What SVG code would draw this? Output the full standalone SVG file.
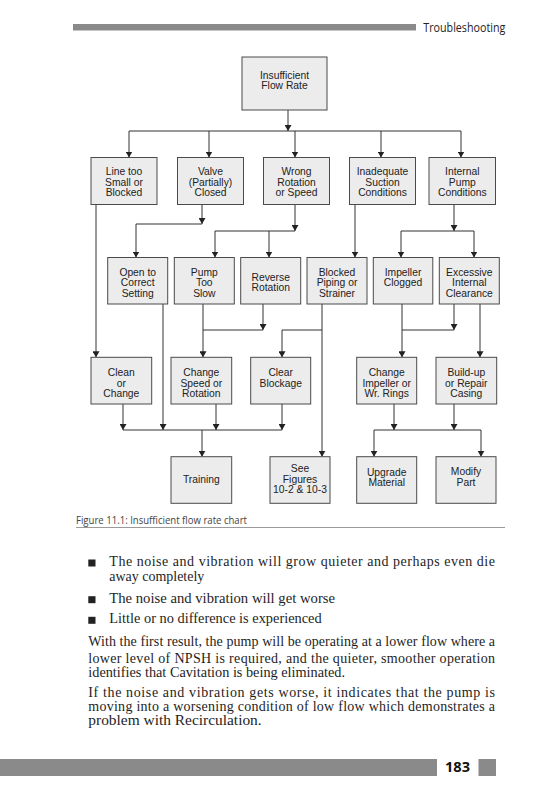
<svg xmlns="http://www.w3.org/2000/svg" width="533" height="800" viewBox="0 0 533 800">
<style>
.box{fill:#ececec;stroke:#4a4a4a;stroke-width:1}
.bt{font-family:"Liberation Sans",Arial,sans-serif;font-size:10.3px;fill:#222;text-anchor:middle}
.cn{fill:none;stroke:#333;stroke-width:1}
.body{font-family:"Liberation Serif","Times New Roman",serif;font-size:14px;fill:#1e1e1e}
.hdr{font-family:"Open Sans","Liberation Sans",sans-serif;font-size:12px;fill:#222}
</style>
<defs>
<marker id="ah" markerWidth="6" markerHeight="7" refX="6" refY="3.5" orient="auto" markerUnits="userSpaceOnUse">
<path d="M0,0 L6,3.5 L0,7 z" fill="#222"/>
</marker>
</defs>
<rect width="533" height="800" fill="#fff"/>
<g id="header">
<rect x="73" y="24" width="343" height="6.5" fill="#8a8a8a"/>
<text class="hdr" x="423.3" y="31.5" textLength="82" lengthAdjust="spacingAndGlyphs">Troubleshooting</text>
</g>
<g id="connectors">
<path class="cn" d="M288,110 V131" marker-end="url(#ah)"/>
<path class="cn" d="M129,131 H461"/>
<path class="cn" d="M129,131 V157.5" marker-end="url(#ah)"/>
<path class="cn" d="M209,131 V157.5" marker-end="url(#ah)"/>
<path class="cn" d="M295,131 V157.5" marker-end="url(#ah)"/>
<path class="cn" d="M381,131 V157.5" marker-end="url(#ah)"/>
<path class="cn" d="M461,131 V157.5" marker-end="url(#ah)"/>
<path class="cn" d="M96,204.5 V357.3" marker-end="url(#ah)"/>
<path class="cn" d="M202,204.5 V224" marker-end="url(#ah)"/>
<path class="cn" d="M202,224 H136 V257.5" marker-end="url(#ah)"/>
<path class="cn" d="M295,204.5 V231" marker-end="url(#ah)"/>
<path class="cn" d="M215,231 H295"/>
<path class="cn" d="M215,231 V257.5" marker-end="url(#ah)"/>
<path class="cn" d="M269,231 V257.5" marker-end="url(#ah)"/>
<path class="cn" d="M355,204.5 V257.5" marker-end="url(#ah)"/>
<path class="cn" d="M454,204.5 V231" marker-end="url(#ah)"/>
<path class="cn" d="M401,231 H474"/>
<path class="cn" d="M401,231 V257.5" marker-end="url(#ah)"/>
<path class="cn" d="M474,231 V257.5" marker-end="url(#ah)"/>
<path class="cn" d="M163,304 V430" marker-end="url(#ah)"/>
<path class="cn" d="M203,304 V357.3" marker-end="url(#ah)"/>
<path class="cn" d="M263,304 V330" marker-end="url(#ah)"/>
<path class="cn" d="M263,330 H203"/>
<path class="cn" d="M322,304 V456.7" marker-end="url(#ah)"/>
<path class="cn" d="M282,330 H322"/>
<path class="cn" d="M282,330 V357.3" marker-end="url(#ah)"/>
<path class="cn" d="M402,304 V357.3" marker-end="url(#ah)"/>
<path class="cn" d="M454,304 V330" marker-end="url(#ah)"/>
<path class="cn" d="M402,330 H454"/>
<path class="cn" d="M480,304 V357.3" marker-end="url(#ah)"/>
<path class="cn" d="M123,404 V430" marker-end="url(#ah)"/>
<path class="cn" d="M216,404 V430" marker-end="url(#ah)"/>
<path class="cn" d="M282,404 V430" marker-end="url(#ah)"/>
<path class="cn" d="M123,430 H282"/>
<path class="cn" d="M202,430 V456.7" marker-end="url(#ah)"/>
<path class="cn" d="M394,404 V430" marker-end="url(#ah)"/>
<path class="cn" d="M454,404 V430" marker-end="url(#ah)"/>
<path class="cn" d="M374,430 H481"/>
<path class="cn" d="M374,430 V456.7" marker-end="url(#ah)"/>
<path class="cn" d="M481,430 V456.7" marker-end="url(#ah)"/>
</g>
<g id="n-top"><rect class="box" x="242" y="57" width="85" height="53"/><text class="bt" x="284.5" y="78.6">Insufficient</text><text class="bt" x="284.5" y="88.9">Flow Rate</text></g>
<g id="n-line"><rect class="box" x="91" y="157.5" width="66" height="47"/><text class="bt" x="124" y="175.3">Line too</text><text class="bt" x="124" y="185.6">Small or</text><text class="bt" x="124" y="195.9">Blocked</text></g>
<g id="n-valve"><rect class="box" x="177.5" y="157.5" width="66" height="47"/><text class="bt" x="210.5" y="175.3">Valve</text><text class="bt" x="210.5" y="185.6">(Partially)</text><text class="bt" x="210.5" y="195.9">Closed</text></g>
<g id="n-wrong"><rect class="box" x="263.5" y="157.5" width="66" height="47"/><text class="bt" x="296.5" y="175.3">Wrong</text><text class="bt" x="296.5" y="185.6">Rotation</text><text class="bt" x="296.5" y="195.9">or Speed</text></g>
<g id="n-inadequate"><rect class="box" x="349.5" y="157.5" width="66" height="47"/><text class="bt" x="382.5" y="175.3">Inadequate</text><text class="bt" x="382.5" y="185.6">Suction</text><text class="bt" x="382.5" y="195.9">Conditions</text></g>
<g id="n-internal"><rect class="box" x="429" y="157.5" width="66.5" height="47"/><text class="bt" x="462.3" y="175.3">Internal</text><text class="bt" x="462.3" y="185.6">Pump</text><text class="bt" x="462.3" y="195.9">Conditions</text></g>
<g id="n-open"><rect class="box" x="107.7" y="257.5" width="60" height="46.5"/><text class="bt" x="137.7" y="275.9">Open to</text><text class="bt" x="137.7" y="286.3">Correct</text><text class="bt" x="137.7" y="296.6">Setting</text></g>
<g id="n-pump"><rect class="box" x="174.3" y="257.5" width="60" height="46.5"/><text class="bt" x="204.3" y="275.9">Pump</text><text class="bt" x="204.3" y="286.3">Too</text><text class="bt" x="204.3" y="296.6">Slow</text></g>
<g id="n-reverse"><rect class="box" x="240.7" y="257.5" width="60" height="46.5"/><text class="bt" x="270.7" y="281.3">Reverse</text><text class="bt" x="270.7" y="291.4">Rotation</text></g>
<g id="n-blocked"><rect class="box" x="307" y="257.5" width="60" height="46.5"/><text class="bt" x="337" y="275.9">Blocked</text><text class="bt" x="337" y="286.3">Piping or</text><text class="bt" x="337" y="296.6">Strainer</text></g>
<g id="n-impeller"><rect class="box" x="373.3" y="257.5" width="59.5" height="46.5"/><text class="bt" x="403" y="275.9">Impeller</text><text class="bt" x="403" y="286.3">Clogged</text></g>
<g id="n-excessive"><rect class="box" x="439.3" y="257.5" width="60" height="46.5"/><text class="bt" x="469.3" y="275.9">Excessive</text><text class="bt" x="469.3" y="286.3">Internal</text><text class="bt" x="469.3" y="296.6">Clearance</text></g>
<g id="n-clean"><rect class="box" x="91" y="357.3" width="60.7" height="46.7"/><text class="bt" x="121.3" y="376.3">Clean</text><text class="bt" x="121.3" y="386.5">or</text><text class="bt" x="121.3" y="396.8">Change</text></g>
<g id="n-changespeed"><rect class="box" x="171" y="357.3" width="60.7" height="46.7"/><text class="bt" x="201.3" y="376.3">Change</text><text class="bt" x="201.3" y="386.5">Speed or</text><text class="bt" x="201.3" y="396.8">Rotation</text></g>
<g id="n-clear"><rect class="box" x="250.7" y="357.3" width="60" height="46.7"/><text class="bt" x="280.7" y="376.3">Clear</text><text class="bt" x="280.7" y="386.5">Blockage</text></g>
<g id="n-changeimp"><rect class="box" x="356.7" y="357.3" width="60" height="46.7"/><text class="bt" x="386.7" y="376.3">Change</text><text class="bt" x="386.7" y="386.5">Impeller or</text><text class="bt" x="386.7" y="396.8">Wr. Rings</text></g>
<g id="n-buildup"><rect class="box" x="436" y="357.3" width="60.7" height="46.7"/><text class="bt" x="466.3" y="376.3">Build-up</text><text class="bt" x="466.3" y="386.5">or Repair</text><text class="bt" x="466.3" y="396.8">Casing</text></g>
<g id="n-training"><rect class="box" x="171" y="456.7" width="60.7" height="46.6"/><text class="bt" x="201.3" y="483">Training</text></g>
<g id="n-see"><rect class="box" x="270" y="456.7" width="60" height="46.6"/><text class="bt" x="300" y="472.2">See</text><text class="bt" x="300" y="482.6">Figures</text><text class="bt" x="300" y="493">10-2 &amp; 10-3</text></g>
<g id="n-upgrade"><rect class="box" x="356.7" y="456.7" width="60" height="46.6"/><text class="bt" x="386.7" y="475.8">Upgrade</text><text class="bt" x="386.7" y="486">Material</text></g>
<g id="n-modify"><rect class="box" x="436" y="456.7" width="60" height="46.6"/><text class="bt" x="466" y="475.3">Modify</text><text class="bt" x="466" y="485.6">Part</text></g>
<g id="caption">
<text x="76" y="524" font-family="'Open Sans','Liberation Sans',sans-serif" font-size="10px" fill="#444" textLength="171" lengthAdjust="spacingAndGlyphs">Figure 11.1: Insufficient flow rate chart</text>
<line x1="76" y1="527.5" x2="505" y2="527.5" stroke="#9a9a9a" stroke-width="1"/>
</g>
<g id="body">
<rect x="88.3" y="559.5" width="7.2" height="7" fill="#222"/>
<rect x="88.3" y="596.2" width="7.2" height="7" fill="#222"/>
<rect x="88.3" y="616.8" width="7.2" height="7" fill="#222"/>
<text class="body" x="109.3" y="566" textLength="385.7" lengthAdjust="spacing">The noise and vibration will grow quieter and perhaps even die</text>
<text class="body" x="109.3" y="580.5" textLength="95" lengthAdjust="spacingAndGlyphs">away completely</text>
<text class="body" x="109.3" y="602.7" textLength="225.7" lengthAdjust="spacingAndGlyphs">The noise and vibration will get worse</text>
<text class="body" x="109.3" y="623.3" textLength="212.4" lengthAdjust="spacingAndGlyphs">Little or no difference is experienced</text>
<text class="body" x="88.3" y="646" textLength="406.7" lengthAdjust="spacing">With the first result, the pump will be operating at a lower flow where a</text>
<text class="body" x="88.3" y="662.5" textLength="406.7" lengthAdjust="spacing">lower level of NPSH is required, and the quieter, smoother operation</text>
<text class="body" x="88.3" y="676.7" textLength="256.7" lengthAdjust="spacingAndGlyphs">identifies that Cavitation is being eliminated.</text>
<text class="body" x="88.3" y="696.7" textLength="406.7" lengthAdjust="spacing">If the noise and vibration gets worse, it indicates that the pump is</text>
<text class="body" x="88.3" y="711" textLength="406.7" lengthAdjust="spacing">moving into a worsening condition of low flow which demonstrates a</text>
<text class="body" x="88.3" y="725.3" textLength="173.4" lengthAdjust="spacingAndGlyphs">problem with Recirculation.</text>
</g>
<g id="footer">
<rect x="0" y="759" width="437" height="17" fill="#8a8a8a"/>
<text x="445" y="772" font-family="'Open Sans','Liberation Sans',sans-serif" font-size="15px" font-weight="bold" fill="#111" textLength="25" lengthAdjust="spacingAndGlyphs">183</text>
<rect x="478.5" y="759" width="17.5" height="17" fill="#8a8a8a"/>
</g>
</svg>
